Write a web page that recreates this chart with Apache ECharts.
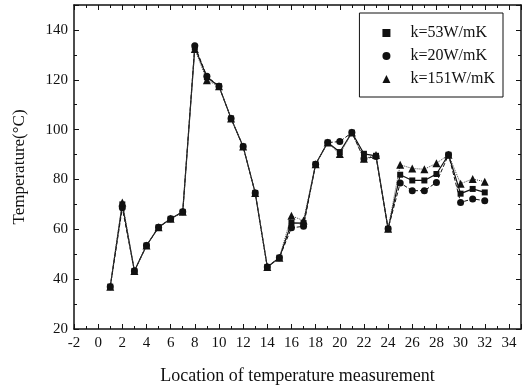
<!DOCTYPE html>
<html>
<head>
<meta charset="utf-8">
<script src="https://cdn.jsdelivr.net/npm/echarts@6/dist/echarts.min.js"></script>
<style>
  html, body { margin: 0; padding: 0; background: #fff; }
  #chart { width: 526px; height: 390px; }
</style>
</head>
<body>
<div id="chart"></div>
<script>
// measurement locations
var locations = [1, 2, 3, 4, 5, 6, 7, 8, 9, 10, 11, 12, 13, 14, 15, 16,
  17, 18, 19, 20, 21, 22, 23, 24, 25, 26, 27, 28, 29, 30, 31, 32]
// temperatures
var k53 = [37, 70, 43.3, 53.5, 60.8, 64.2, 67, 133, 121, 117.4, 104.5, 93.2, 74.6, 44.9, 48.6, 62.6,
  62.5, 86.1, 94.8, 91, 98.8, 90.3, 89.5, 60.2, 81.9, 79.6, 79.6, 82.2, 89.9, 74.3, 76.2, 74.8]
var k20 = [37, 68.6, 43.3, 53.5, 60.8, 64.2, 67, 133.6, 121.4, 117.4, 104.5, 93.2, 74.6, 44.9, 48.6, 60.6,
  61.2, 86.1, 94.8, 95.2, 98.8, 88.3, 89.2, 60.2, 78.6, 75.5, 75.5, 78.8, 89.9, 70.8, 72.2, 71.5]
var k151 = [37, 70.8, 43.3, 53.5, 60.8, 64.2, 67, 132.3, 119.8, 117.4, 104.5, 93.2, 74.6, 44.9, 48.6, 65.4,
  63.5, 86.1, 94.8, 90.2, 98.8, 88.3, 89.8, 60.2, 85.9, 84.4, 84.1, 86.5, 89.9, 78.3, 80.2, 79.1]
var seriesNames = ['k=53W/mK', 'k=20W/mK', 'k=151W/mK']

var font = 'Liberation Serif'
var ink = '#111'

var pairs = function (vals) {
  return locations.map(function (x, i) { return [x, vals[i]] })
}

var axisBase = {
  type: 'value',
  axisLine: { show: true, onZero: false, lineStyle: { color: ink, width: 1.5 } },
  axisTick: { show: true, inside: true, length: 5, lineStyle: { color: ink, width: 1 } },
  minorTick: { show: true, splitNumber: 2, length: 3, lineStyle: { color: ink, width: 1 } },
  splitLine: { show: false },
  minorSplitLine: { show: false }
}

var chart = echarts.init(document.getElementById('chart'))
chart.setOption({
  animation: false,
  backgroundColor: '#fff',
  textStyle: { fontFamily: font },
  grid: { left: 74, right: 5, top: 5, bottom: 60 },
  legend: {
    orient: 'vertical',
    top: 13,
    right: 23,
    padding: [12, 8, 10, 23],
    itemGap: 7,
    itemWidth: 8,
    itemHeight: 8,
    borderColor: ink,
    borderWidth: 1,
    textStyle: { fontFamily: font, fontSize: 16, color: ink, padding: [0, 0, 0, 15] },
    data: [
      { name: seriesNames[0], icon: 'rect', itemStyle: { color: ink } },
      { name: seriesNames[1], icon: 'circle', itemStyle: { color: ink } },
      { name: seriesNames[2], icon: 'triangle', itemStyle: { color: ink } }
    ]
  },
  xAxis: [
    Object.assign({}, axisBase, {
      min: -2, max: 35, interval: 2,
      name: 'Location of temperature measurement',
      nameLocation: 'middle',
      nameGap: 38,
      nameTextStyle: { fontFamily: font, fontSize: 18, color: ink },
      axisLabel: { fontFamily: font, fontSize: 15, color: ink, margin: 7, showMaxLabel: false }
    }),
    Object.assign({}, axisBase, {
      position: 'top',
      min: -2, max: 35, interval: 2,
      axisLabel: { show: false }
    })
  ],
  yAxis: [
    Object.assign({}, axisBase, {
      min: 20, max: 150, interval: 20,
      name: 'Temperature(°C)',
      nameLocation: 'middle',
      nameGap: 46,
      nameTextStyle: { fontFamily: font, fontSize: 17, color: ink },
      axisLabel: { fontFamily: font, fontSize: 15, color: ink, margin: 6, showMaxLabel: false }
    }),
    Object.assign({}, axisBase, {
      position: 'right',
      min: 20, max: 150, interval: 20,
      axisLabel: { show: false }
    })
  ],
  series: [
    {
      name: seriesNames[0], type: 'line', data: pairs(k53),
      symbol: 'rect', symbolSize: 6,
      itemStyle: { color: ink },
      lineStyle: { color: ink, width: 1.2, type: 'solid' }
    },
    {
      name: seriesNames[1], type: 'line', data: pairs(k20),
      symbol: 'circle', symbolSize: 7,
      itemStyle: { color: ink },
      lineStyle: { color: ink, width: 1, type: 'dashed' }
    },
    {
      name: seriesNames[2], type: 'line', data: pairs(k151),
      symbol: 'triangle', symbolSize: 8,
      itemStyle: { color: ink },
      lineStyle: { color: '#444', width: 1, type: 'dotted' }
    }
  ]
})
</script>
</body>
</html>
